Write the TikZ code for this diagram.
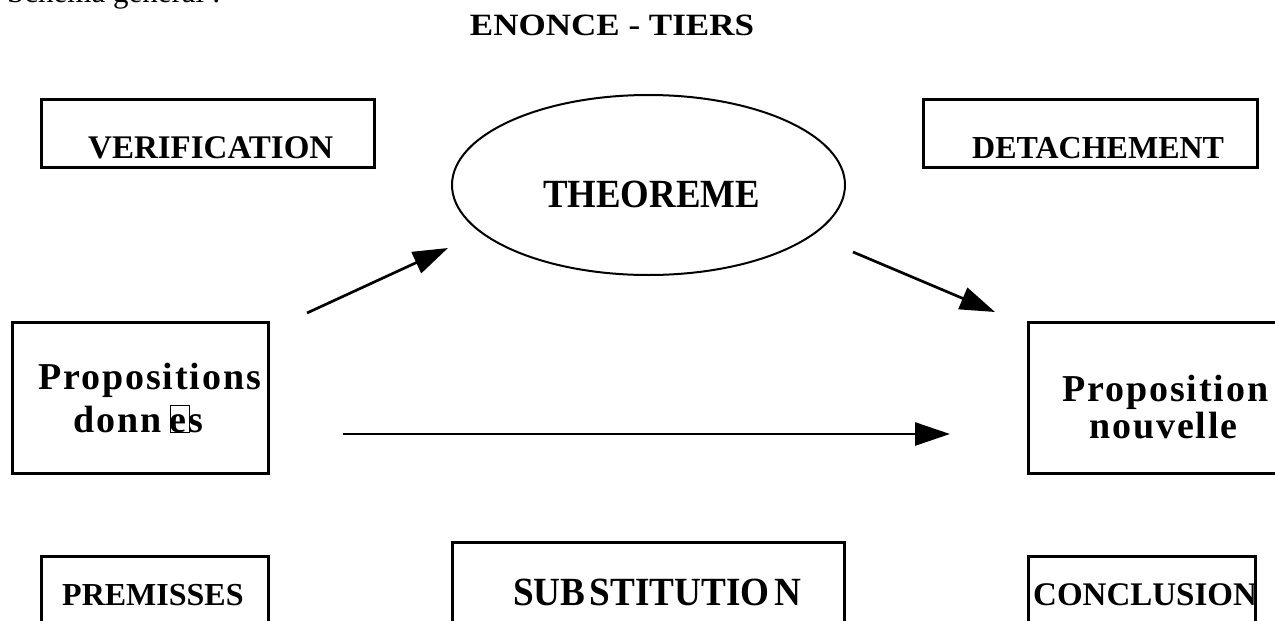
\documentclass[tikz,border=0pt]{standalone}
\usepackage{fontspec}
\setmainfont{Liberation Serif}
\newfontfamily\spacedfont[LetterSpace=5]{Liberation Serif}
\usetikzlibrary{arrows.meta,shapes.geometric}
\tikzset{
  box/.style={draw, line width=3pt, rectangle, inner sep=0pt},
  oval/.style={draw, line width=2pt, ellipse, inner sep=0pt},
  lbl/.style={anchor=base west, inner sep=0pt},
  conn/.style={line width=2.7pt, -{Triangle[length=35pt,width=23pt]}},
}
\begin{document}
\begin{tikzpicture}[x=1pt,y=-1pt]
\useasboundingbox (0,0) rectangle (1275,621);
\clip (0,0) rectangle (1275,621);
% header (cut off at top)
\node[lbl, font=\fontsize{31}{31}\selectfont] (hdr) at (7,2) {Schéma général :};
\node[anchor=base, inner sep=0pt, font=\fontsize{31}{31}\selectfont\bfseries] (title) at (612,35.5) {\scalebox{1.13}[1]{ENONCE - TIERS}};
% boxes
\node[box, minimum width=333pt, minimum height=68pt] (verifbox) at (207.5,133) {};
\node[lbl, font=\fontsize{33}{33}\selectfont\bfseries] (verif) at (88,158) {VERIFICATION};
\node[box, minimum width=334pt, minimum height=68pt] (detbox) at (1090,133) {};
\node[lbl, font=\fontsize{32}{32}\selectfont\bfseries] (det) at (972,158) {DETACHEMENT};
\node[oval, minimum width=393pt, minimum height=180pt] (theo) at (648.5,185) {};
\node[anchor=base, inner sep=0pt, font=\fontsize{40}{40}\selectfont\bfseries] (theotxt) at (651.5,207) {\scalebox{0.92}[1]{THEOREME}};
\node[box, minimum width=256pt, minimum height=151pt] (propbox) at (140,397.5) {};
\node[lbl, font=\fontsize{38}{38}\spacedfont\bfseries] (prop1) at (38,389) {Propositions};
\node[lbl, font=\fontsize{38}{38}\spacedfont\bfseries] (prop2) at (73,432) {donn\hspace{0.22em}\rlap{\setlength{\fboxsep}{0pt}\setlength{\fboxrule}{0.5pt}\raisebox{0pt}{\fbox{\vphantom{d}\hspace{0.5em}}}}es};
\node[box, minimum width=262pt, minimum height=151pt] (newbox) at (1159,397.5) {};
\node[lbl, font=\fontsize{38}{38}\spacedfont\bfseries] (new1) at (1062,401) {Proposition};
\node[lbl, font=\fontsize{38}{38}\spacedfont\bfseries] (new2) at (1089,438) {nouvelle};
\node[box, minimum width=227pt, minimum height=90pt] (prembox) at (154.5,601) {};
\node[lbl, font=\fontsize{32}{32}\selectfont\bfseries] (prem) at (62,605) {PREMISSES};
\node[box, minimum width=392pt, minimum height=104pt] (subbox) at (648,594) {};
\node[lbl, font=\fontsize{40}{40}\selectfont\bfseries] (sub) at (513,605) {\scalebox{0.93}[1]{SUB\hspace{0.12em}STITUTIO\hspace{0.12em}N}};
\node[box, minimum width=227pt, minimum height=90pt] (concbox) at (1141.5,601) {};
\node[lbl, font=\fontsize{33}{33}\selectfont\bfseries] (conc) at (1033,605) {CONCLUSION};
% connectors
\coordinate (a1s) at (307,313);
\coordinate (a1e) at (448,248);
\coordinate (a2s) at (853,252);
\coordinate (a2e) at (995,312);
\coordinate (a3s) at (343,434);
\coordinate (a3e) at (950,434);
\draw[conn] (a1s) -- (a1e);
\draw[conn] (a2s) -- (a2e);
\draw[conn] (a3s) -- (a3e);
\end{tikzpicture}
\end{document}
